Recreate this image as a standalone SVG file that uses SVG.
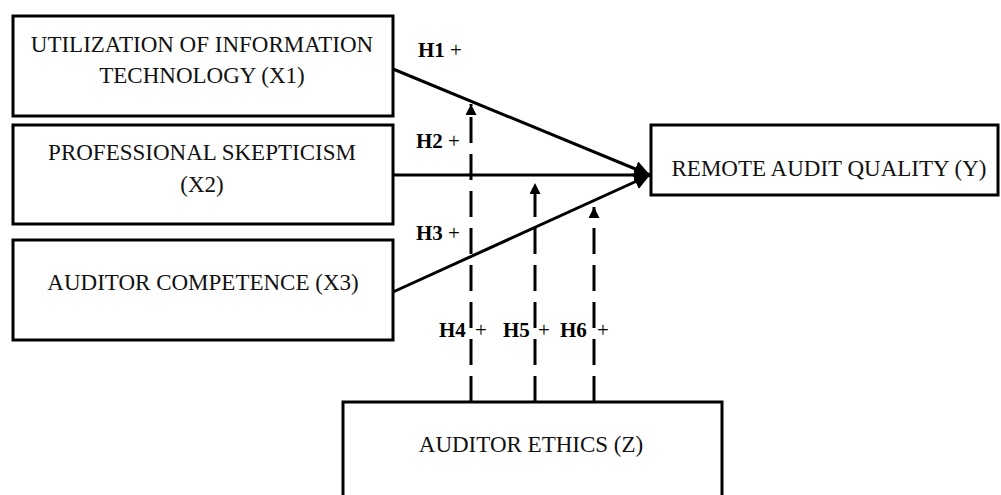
<svg xmlns="http://www.w3.org/2000/svg" width="1001" height="495" viewBox="0 0 1001 495">
<style>
.box{fill:#fff;stroke:#000;stroke-width:3}
.t{font-family:"Liberation Serif","Times New Roman",serif;font-size:23px;fill:#111;text-anchor:middle}
.h{font-family:"Liberation Serif","Times New Roman",serif;font-size:21px;fill:#000}
.b{font-weight:bold}
.ln{stroke:#000;stroke-width:3;fill:none}
.ds{stroke:#000;stroke-width:3;fill:none;stroke-dasharray:26 11}
</style>
<defs>
<marker id="big" viewBox="0 0 10 10" refX="10" refY="5" markerWidth="16" markerHeight="16" markerUnits="userSpaceOnUse" orient="auto"><path d="M0,0 L10,5 L0,10 Z" fill="#000"/></marker>
<marker id="small" viewBox="0 0 10 10" refX="10" refY="5" markerWidth="14" markerHeight="11" markerUnits="userSpaceOnUse" orient="auto"><path d="M0,0 L10,5 L0,10 Z" fill="#000"/></marker>
</defs>
<g id="x1"><rect class="box" x="13" y="16" width="380" height="100"/><text class="t" x="202" y="52">UTILIZATION OF INFORMATION</text><text class="t" x="202" y="83">TECHNOLOGY (X1)</text></g>
<g id="x2"><rect class="box" x="13" y="125" width="380" height="99"/><text class="t" x="202" y="160">PROFESSIONAL SKEPTICISM</text><text class="t" x="202" y="192">(X2)</text></g>
<g id="x3"><rect class="box" x="13" y="240" width="380" height="100"/><text class="t" x="203" y="290">AUDITOR COMPETENCE (X3)</text></g>
<g id="y"><rect class="box" x="651" y="125" width="347" height="70"/><text class="t" x="829" y="176">REMOTE AUDIT QUALITY (Y)</text></g>
<g id="z"><rect class="box" x="343" y="402" width="379" height="110"/><text class="t" x="531" y="452">AUDITOR ETHICS (Z)</text></g>
<g id="connectors">
<line class="ln" x1="393" y1="69" x2="650" y2="175" marker-end="url(#big)"/>
<line class="ln" x1="393" y1="175" x2="650" y2="175" marker-end="url(#big)"/>
<line class="ln" x1="393" y1="292" x2="650" y2="175" marker-end="url(#big)"/>
<line class="ds" x1="471" y1="402" x2="471" y2="104" marker-end="url(#small)"/>
<line class="ds" x1="535" y1="402" x2="535" y2="183" marker-end="url(#small)"/>
<line class="ds" x1="594" y1="402" x2="594" y2="207" marker-end="url(#small)"/>
</g>
<g id="labels">
<text class="h" x="418" y="57"><tspan class="b">H1</tspan> +</text>
<text class="h" x="416" y="148"><tspan class="b">H2</tspan> +</text>
<text class="h" x="416" y="240"><tspan class="b">H3</tspan> +</text>
<text class="h" x="439" y="337"><tspan class="b">H4</tspan><tspan x="475">+</tspan></text>
<text class="h" x="503" y="337"><tspan class="b">H5</tspan><tspan x="538">+</tspan></text>
<text class="h" x="560" y="337"><tspan class="b">H6</tspan><tspan x="597">+</tspan></text>
</g>
</svg>
